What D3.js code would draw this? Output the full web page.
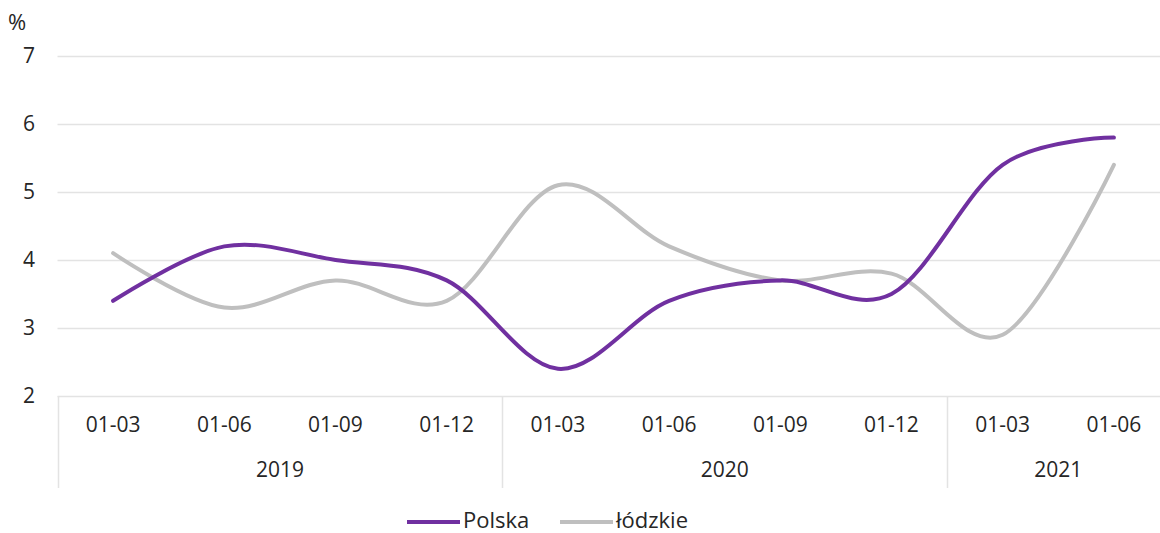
<!DOCTYPE html>
<html>
<head>
<meta charset="utf-8">
<script src="https://cdn.jsdelivr.net/npm/d3@7"></script>
<style>
  body { margin: 0; background: #fff; }
  svg { font-family: 'Open Sans', 'Noto Sans', sans-serif; }
</style>
</head>
<body>
<div id="chart"></div>
<script>
// Data
const months = ['01-03', '01-06', '01-09', '01-12', '01-03', '01-06', '01-09', '01-12', '01-03', '01-06'];
const years = [
  { label: '2019', start: 0, end: 4 },
  { label: '2020', start: 4, end: 8 },
  { label: '2021', start: 8, end: 10 },
];
const polska = [3.4, 4.2, 4.0, 3.7, 2.4, 3.4, 3.7, 3.5, 5.4, 5.8];
const lodzkie = [4.1, 3.3, 3.7, 3.4, 5.1, 4.2, 3.7, 3.8, 2.9, 5.4];
const yTicks = [2, 3, 4, 5, 6, 7];

const series = [
  { name: 'Polska', values: polska, color: '#7030a0' },
  { name: 'łódzkie', values: lodzkie, color: '#bfbfbf' },
];

const width = 1160;
const height = 533;

const svg = d3
  .select('#chart')
  .append('svg')
  .attr('width', width)
  .attr('height', height);

// The plot area runs past the right edge, as in the original
const x = d3
  .scaleBand()
  .domain(d3.range(months.length))
  .range([57.5, 1169.5]);

const y = d3.scaleLinear().domain([2, 7]).range([396, 56]);

// Gridlines
svg
  .append('g')
  .selectAll('line')
  .data(yTicks)
  .join('line')
  .attr('x1', 57.5)
  .attr('x2', width)
  .attr('y1', (d) => Math.round(y(d)) + 0.5)
  .attr('y2', (d) => Math.round(y(d)) + 0.5)
  .attr('stroke', '#e3e3e3')
  .attr('stroke-width', 1.5);

// Y labels
svg
  .append('g')
  .selectAll('text')
  .data(yTicks)
  .join('text')
  .attr('x', 35)
  .attr('y', (d) => y(d))
  .attr('dy', '0.35em')
  .attr('text-anchor', 'end')
  .attr('font-size', 21)
  .attr('fill', '#262626')
  .text((d) => d);

svg
  .append('text')
  .attr('x', 8)
  .attr('y', 22)
  .attr('dy', '0.35em')
  .attr('font-size', 22)
  .attr('fill', '#262626')
  .text('%');

// Category separators
const seps = years.map((d) => d.start);
svg
  .append('g')
  .selectAll('line')
  .data(seps)
  .join('line')
  .attr('x1', (d) => Math.round(x(d)) + 0.5)
  .attr('x2', (d) => Math.round(x(d)) + 0.5)
  .attr('y1', 396)
  .attr('y2', 488)
  .attr('stroke', '#e3e3e3')
  .attr('stroke-width', 1.5);

// Month labels
svg
  .append('g')
  .selectAll('text')
  .data(months)
  .join('text')
  .attr('x', (d, i) => x(i) + x.bandwidth() / 2)
  .attr('y', 425)
  .attr('dy', '0.35em')
  .attr('text-anchor', 'middle')
  .attr('font-size', 21)
  .attr('fill', '#262626')
  .text((d) => d);

// Year labels
svg
  .append('g')
  .selectAll('text')
  .data(years)
  .join('text')
  .attr('x', (d) => (x(d.start) + x(d.end - 1) + x.bandwidth()) / 2)
  .attr('y', 470)
  .attr('dy', '0.35em')
  .attr('text-anchor', 'middle')
  .attr('font-size', 21)
  .attr('fill', '#262626')
  .text((d) => d.label);

// Lines
const line = d3
  .line()
  .x((d, i) => x(i) + x.bandwidth() / 2)
  .y((d) => y(d))
  .curve(d3.curveCardinal.tension(0));

svg
  .append('g')
  .selectAll('path')
  .data(series.slice().reverse())
  .join('path')
  .attr('d', (d) => line(d.values))
  .attr('fill', 'none')
  .attr('stroke', (d) => d.color)
  .attr('stroke-width', 4)
  .attr('stroke-linecap', 'round');

// Legend
const legendItems = [
  { s: series[0], x: 407 },
  { s: series[1], x: 560 },
];
const legend = svg
  .append('g')
  .selectAll('g')
  .data(legendItems)
  .join('g')
  .attr('transform', (d) => `translate(${d.x},520)`);

legend
  .append('line')
  .attr('x1', 0)
  .attr('x2', 53)
  .attr('y1', 2)
  .attr('y2', 2)
  .attr('stroke', (d) => d.s.color)
  .attr('stroke-width', 4);

legend
  .append('text')
  .attr('x', 56)
  .attr('dy', '0.35em')
  .attr('font-size', 22)
  .attr('fill', '#262626')
  .text((d) => d.s.name);
</script>
</body>
</html>
